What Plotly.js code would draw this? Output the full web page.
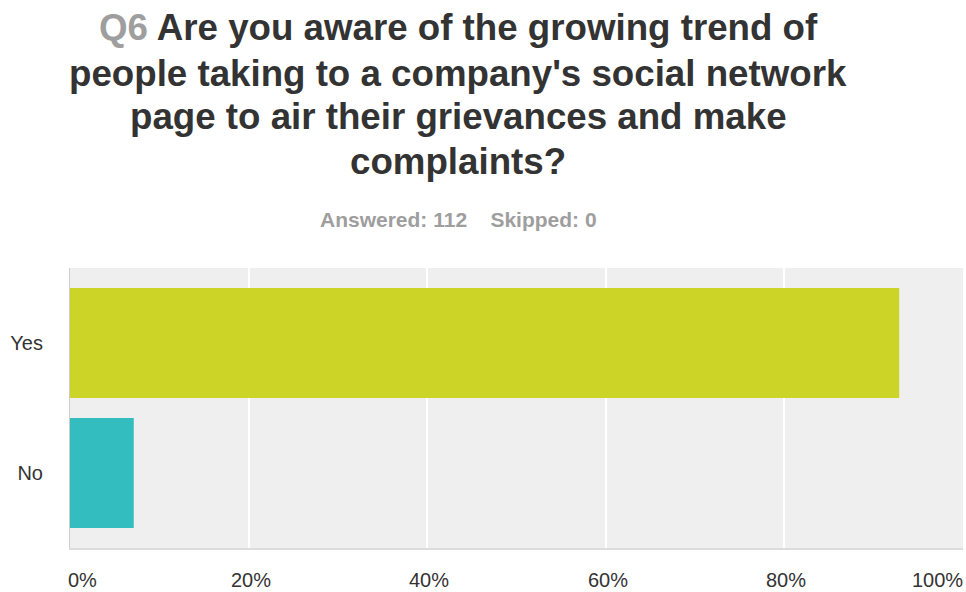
<!DOCTYPE html>
<html>
<head>
<meta charset="utf-8">
<script src="https://cdn.plot.ly/plotly-3.0.1.min.js"></script>
<style>html,body{margin:0;padding:0;background:#fff;}#chart{width:966px;height:592px;}</style>
</head>
<body>
<div id="chart"></div>
<script>
const categories = ["Yes", "No"];
const percentValues = [92.86, 7.14];
const barColors = ["#cdd428", "#33bdbf"];
const xTickValues = [0, 20, 40, 60, 80, 100];
const xTickLabels = ["0%", "20%", "40%", "60%", "80%", "100%"];
const questionNumber = "Q6";
const titleLines = ["Are you aware of the growing trend of", "people taking to a company's social network", "page to air their grievances and make", "complaints?"];
const answeredCount = 112;
const skippedCount = 0;

const FONT = "Liberation Sans, Arial, sans-serif";
const plotTop = 268, plotBottom = 548, plotLeft = 70, plotRight = 963;
const py = p => (plotBottom - p) / (plotBottom - plotTop);
const px = p => (p - plotLeft) / (plotRight - plotLeft);

const trace = {
  type: "bar",
  orientation: "h",
  y: categories,
  x: percentValues,
  marker: { color: barColors, line: { width: 0 } },
  width: 0.846,
  hoverinfo: "x+y"
};

const annotations = xTickValues.map((v, i) => ({
  x: v, xref: "x", y: 0, yref: "paper",
  yshift: -32, yanchor: "middle",
  xanchor: i === 0 ? "left" : (i === xTickValues.length - 1 ? "right" : "center"),
  xshift: i === 0 ? -4 : 2,
  text: xTickLabels[i], showarrow: false,
  font: { family: FONT, size: 20, color: "#333333" }
}));

const lineCenters = [27, 72, 116, 160];
titleLines.forEach((line, i) => {
  annotations.push({
    x: px(458), xref: "paper", xanchor: "center",
    y: py(lineCenters[i] + 1), yref: "paper", yanchor: "middle",
    showarrow: false,
    text: (i === 0 ? '<span style="color:#9e9e9e">' + questionNumber + '</span> ' : '') + line,
    font: { family: FONT, size: 36.7, color: "#333333", weight: "bold" }
  });
});

annotations.push({
  x: px(458), xref: "paper", xanchor: "center",
  y: py(219), yref: "paper", yanchor: "middle",
  showarrow: false,
  text: "Answered: " + answeredCount + "&nbsp;&nbsp;&nbsp;&nbsp;Skipped: " + skippedCount,
  font: { family: FONT, size: 21, color: "#9e9e9e", weight: "bold" }
});

const layout = {
  width: 966, height: 592,
  paper_bgcolor: "#ffffff",
  plot_bgcolor: "#efefef",
  margin: { l: plotLeft, r: 966 - plotRight, t: plotTop, b: 592 - plotBottom },
  showlegend: false,
  xaxis: {
    range: [0, 100],
    tickvals: xTickValues,
    showticklabels: false,
    ticks: "",
    showgrid: true,
    gridcolor: "#ffffff",
    gridwidth: 1.5,
    zeroline: false,
    showline: true,
    linecolor: "#dcdcdc",
    linewidth: 2,
    fixedrange: true
  },
  yaxis: {
    type: "category",
    categoryorder: "array",
    categoryarray: categories,
    range: [1.577, -0.577],
    ticks: "",
    ticklabelstandoff: 22,
    tickfont: { family: FONT, size: 20, color: "#333333" },
    showgrid: false,
    zeroline: false,
    showline: true,
    linecolor: "#cccccc",
    linewidth: 1,
    fixedrange: true
  },
  annotations: annotations
};

Plotly.newPlot("chart", [trace], layout, { displayModeBar: false, responsive: false });
</script>
</body>
</html>
